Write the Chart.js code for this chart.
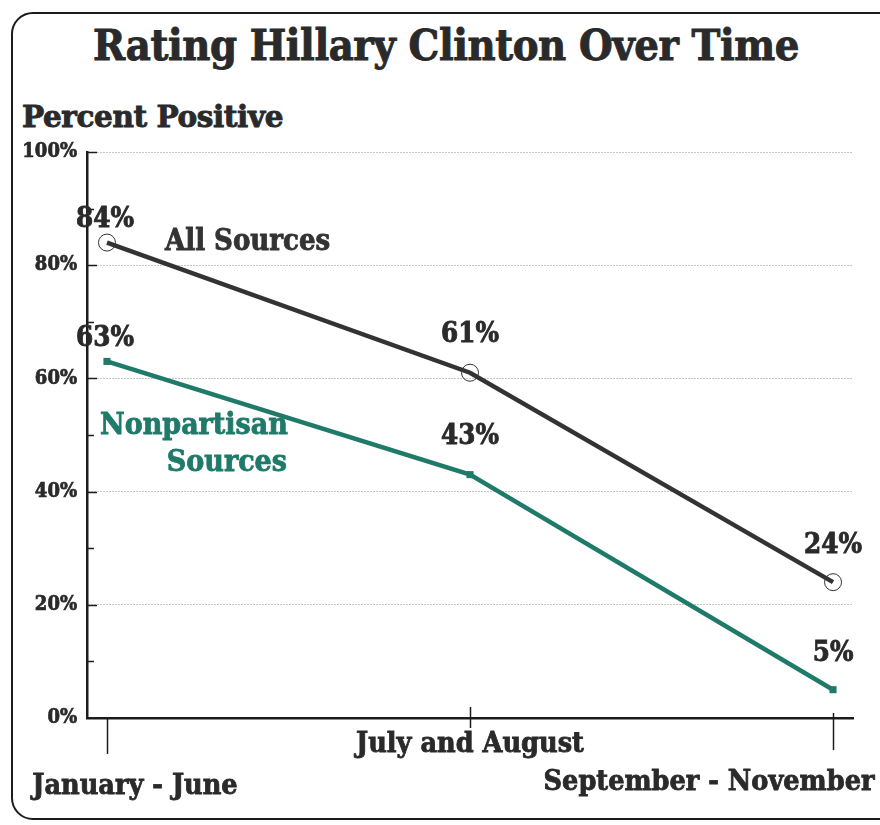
<!DOCTYPE html>
<html>
<head>
<meta charset="utf-8">
<script src="https://cdn.jsdelivr.net/npm/chart.js@4"></script>
<style>
  html, body { margin: 0; padding: 0; background: #fff; }
  #wrap { position: relative; width: 880px; height: 825px; overflow: hidden; }
  #frame { position: absolute; left: 11px; top: 12px; width: 890px; height: 808px;
           border: 2.5px solid #1c1c1c; border-radius: 22px; box-sizing: border-box; }
  h1, h2 { position: absolute; margin: 0; font-weight: bold; color: #2a2a2a; white-space: nowrap;
           -webkit-text-stroke: 0.9px #2a2a2a; }
  h1 { left: 0; width: 892px; top: 20px; text-align: center; font-size: 43px; letter-spacing: -0.4px;
       font-family: "DejaVu Serif Condensed", "DejaVu Serif", serif; }
  h2 { left: 22px; top: 99px; font-size: 29.5px; letter-spacing: -0.4px; font-family: "DejaVu Serif", serif; }
  canvas { position: absolute; left: 0; top: 0; }
</style>
</head>
<body>
<div id="wrap">
  <div id="frame"></div>
  <h1>Rating Hillary Clinton Over Time</h1>
  <h2>Percent Positive</h2>
  <canvas id="c" width="880" height="825"></canvas>
</div>
<script>
  // periodi e percentuali positive
  const periods = ['January - June', 'July and August', 'September - November'];
  const allSources = [84, 61, 24];
  const nonpartisan = [63, 43, 5];
  const seriesNames = ['All Sources', ['Nonpartisan', 'Sources']];
  const yTicks = [0, 20, 40, 60, 80, 100];

  const DARK = '#333333', TEAL = '#1f7a69', INK = '#2a2a2a';
  const FONT = '"DejaVu Serif Condensed", "DejaVu Serif", serif';

  const pts = (ys) => ys.map((y, i) => ({ x: i, y }));

  // testo pieno con un filo di contorno, per avere il nero "da giornale"
  const heavy = (ctx, t, px, py, color) => {
    ctx.fillStyle = color; ctx.strokeStyle = color; ctx.lineWidth = 0.8;
    ctx.fillText(t, px, py); ctx.strokeText(t, px, py);
  };

  // tacche interne, etichette dei periodi, valori e nomi delle serie
  const decor = {
    id: 'decor',
    afterDatasetsDraw(chart) {
      const { ctx, scales: { x, y } } = chart;
      ctx.save();
      ctx.strokeStyle = '#1c1c1c';
      ctx.lineWidth = 1.5;
      for (let v = 10; v <= 100; v += 10) {
        const py = Math.round(y.getPixelForValue(v)) + 0.5;
        ctx.beginPath();
        ctx.moveTo(x.left, py);
        ctx.lineTo(x.left + (v % 20 === 0 ? 10 : 7), py);
        ctx.stroke();
      }
      // tacche dell'asse x: sopra/sotto diverse per ciascun periodo
      const tk = [[0, 36], [-11, 10], [-5, 32]];
      periods.forEach((p, i) => {
        const px = Math.round(x.getPixelForValue(i)) + 0.5;
        ctx.beginPath();
        ctx.moveTo(px, y.bottom + tk[i][0]);
        ctx.lineTo(px, y.bottom + tk[i][1]);
        ctx.stroke();
      });
      ctx.textBaseline = 'middle';
      ctx.textAlign = 'center';
      ctx.font = 'bold 28.5px ' + FONT;
      const lab = [[28, 69], [0, 27], [-124, 65]];
      periods.forEach((p, i) => heavy(ctx, p, x.getPixelForValue(i) + lab[i][0], y.bottom + lab[i][1], INK));
      // valori sopra i punti
      ctx.font = 'bold 27.5px ' + FONT;
      const off = [-23, -38, -36];
      [allSources, nonpartisan].forEach((s) => s.forEach((v, i) => {
        heavy(ctx, v + '%', x.getPixelForValue(i) - (i === 0 ? 2 : 0), y.getPixelForValue(v) + off[i], INK);
      }));
      // nomi delle serie
      ctx.textAlign = 'left';
      ctx.font = 'bold 29px ' + FONT;
      heavy(ctx, seriesNames[0], x.getPixelForValue(0) + 58, y.getPixelForValue(allSources[0]), DARK);
      ctx.font = 'bold 30px ' + FONT;
      heavy(ctx, seriesNames[1][0], x.getPixelForValue(0) - 7, y.getPixelForValue(51.5), TEAL);
      ctx.textAlign = 'right';
      heavy(ctx, seriesNames[1][1], x.getPixelForValue(0) + 180, y.getPixelForValue(45), TEAL);
      ctx.restore();
    },
  };

  new Chart(document.getElementById('c'), {
    type: 'line',
    data: {
      datasets: [
        { label: 'All Sources', data: pts(allSources), borderColor: DARK, borderWidth: 4.5,
          pointStyle: 'circle', pointRadius: 8.5, pointBorderWidth: 1, pointBorderColor: DARK,
          pointBackgroundColor: 'rgba(0,0,0,0)', order: 1 },
        { label: 'Nonpartisan Sources', data: pts(nonpartisan), borderColor: TEAL, borderWidth: 4.5,
          pointStyle: 'rect', pointRadius: 5, pointBorderWidth: 0, pointBackgroundColor: TEAL, order: 2 },
      ],
    },
    plugins: [decor],
    options: {
      responsive: false, animation: false, events: [],
      layout: { padding: { left: 0, right: 27, top: 152, bottom: 107 } },
      plugins: { legend: { display: false }, tooltip: { enabled: false } },
      scales: {
        x: {
          type: 'linear', min: -0.055, max: 2.055,
          grid: { display: false }, ticks: { display: false },
          border: { color: '#1c1c1c', width: 2.5 },
          afterFit: (s) => { s.height = 0; },
        },
        y: {
          min: 0, max: 100,
          afterBuildTicks: (s) => { s.ticks = yTicks.map((value) => ({ value })); },
          afterFit: (s) => { s.width = 87; },
          grid: { drawTicks: false, color: (c) => (c.tick.value === 0 ? 'rgba(0,0,0,0)' : '#8a8a8a'), lineWidth: 1 },
          border: { color: '#1c1c1c', width: 2.5, dash: [1, 2] },
          ticks: { color: INK, padding: 10, font: { family: FONT, weight: 'bold', size: 20 },
                   textStrokeColor: INK, textStrokeWidth: 0.7,
                   callback: (v) => v + '%' },
        },
      },
    },
  });
</script>
</body>
</html>
